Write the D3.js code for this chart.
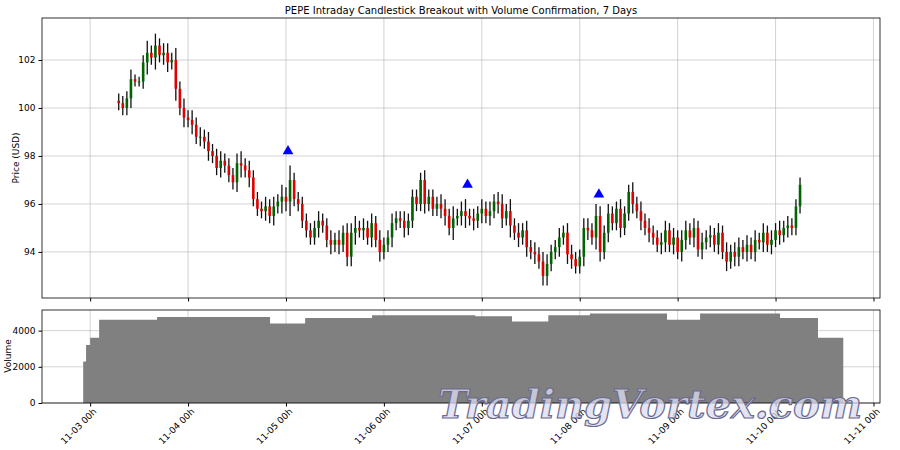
<!DOCTYPE html>
<html>
<head>
<meta charset="UTF-8">
<style>
  body { margin: 0; background: #fff; font-family: "DejaVu Sans", sans-serif; }
</style>
</head>
<body>
<svg id="chart" width="900" height="450"></svg>
<script src="https://cdn.jsdelivr.net/npm/d3@7/dist/d3.min.js"></script>
<script>
// Data: hourly candles from 11-03 07h onward (hour offsets from 11-03 00h)

const startHour = 7;
const firstOpen = 100.3;
const closes = [
  100.2, 100.0, 100.4, 101.2, 101.1, 101.1, 101.9, 102.3, 102.1, 102.6, 102.2, 102.3,
  101.9, 102.0, 100.8, 100.0, 99.6, 99.5, 99.3, 98.8, 98.8, 98.6, 98.2, 98.0,
  97.5, 97.8, 97.6, 97.2, 96.9, 97.7, 97.6, 97.4, 97.1, 96.2, 95.8, 95.7,
  95.9, 95.5, 95.9, 96.1, 96.3, 96.1, 97.0, 96.2, 96.0, 95.3, 94.9, 94.6,
  95.0, 95.3, 95.1, 94.5, 94.3, 94.5, 94.3, 94.8, 93.8, 94.8, 95.0, 94.9,
  95.0, 94.6, 95.2, 94.5, 94.0, 94.3, 94.6, 95.2, 95.4, 95.3, 95.0, 95.3,
  96.3, 96.0, 97.0, 96.0, 96.3, 95.8, 96.0, 95.8, 95.5, 95.0, 95.4, 95.5,
  95.7, 95.5, 95.4, 95.3, 95.6, 95.8, 95.5, 95.7, 96.1, 96.0, 95.4, 95.7,
  95.1, 94.8, 94.6, 94.9, 94.2, 94.0, 93.9, 93.6, 93.0, 93.5, 94.0, 94.2,
  94.6, 94.8, 93.9, 93.7, 93.4, 93.8, 95.0, 94.9, 94.6, 95.5, 94.0, 94.8,
  95.6, 95.2, 95.8, 95.0, 95.6, 96.5, 96.0, 95.7, 95.3, 95.0, 94.8, 94.6,
  94.3, 94.4, 94.9, 94.3, 94.6, 94.0, 94.5, 94.9, 94.6, 95.0, 94.1, 94.4,
  94.6, 94.7, 94.3, 94.8, 94.0, 93.6, 94.0, 93.8, 94.2, 94.0, 94.3, 94.0,
  94.5, 94.4, 94.8, 94.3, 94.5, 94.9, 94.7, 95.0, 95.1, 95.0, 95.9, 96.8
];
const wicks = [
  0.3, 0.3, 0.3, 0.4, 0.2, 0.2, 0.3, 0.5, 0.3, 0.5, 0.3, 0.4,
  0.4, 0.3, 0.5, 0.3, 0.4, 0.3, 0.4, 0.3, 0.4, 0.3, 0.4, 0.3,
  0.3, 0.4, 0.3, 0.3, 0.3, 0.4, 0.5, 0.3, 0.4, 0.3, 0.3, 0.3,
  0.4, 0.3, 0.4, 0.3, 0.5, 0.4, 0.6, 0.3, 0.3, 0.3, 0.3, 0.3,
  0.3, 0.4, 0.3, 0.3, 0.4, 0.3, 0.4, 0.3, 0.4, 0.4, 0.5, 0.3,
  0.4, 0.3, 0.4, 0.3, 0.4, 0.3, 0.3, 0.4, 0.3, 0.3, 0.4, 0.3,
  0.3, 0.3, 0.3, 0.4, 0.3, 0.3, 0.3, 0.4, 0.4, 0.3, 0.5, 0.3,
  0.4, 0.5, 0.3, 0.4, 0.3, 0.4, 0.3, 0.4, 0.3, 0.4, 0.4, 0.3,
  0.5, 0.3, 0.4, 0.3, 0.4, 0.3, 0.4, 0.3, 0.4, 0.4, 0.3, 0.3,
  0.4, 0.3, 0.4, 0.4, 0.3, 0.3, 0.4, 0.4, 0.3, 0.5, 0.4, 0.3,
  0.4, 0.3, 0.3, 0.4, 0.3, 0.3, 0.4, 0.3, 0.4, 0.3, 0.4, 0.3,
  0.3, 0.4, 0.4, 0.3, 0.4, 0.3, 0.4, 0.4, 0.3, 0.4, 0.3, 0.4,
  0.3, 0.4, 0.3, 0.4, 0.3, 0.4, 0.3, 0.4, 0.4, 0.3, 0.4, 0.3,
  0.4, 0.3, 0.4, 0.3, 0.4, 0.3, 0.4, 0.3, 0.4, 0.3, 0.3, 0.3
];

// Breakout markers
const breakoutHours = [48.5, 92.5, 124.7];
const breakoutPrices = [98.2, 96.8, 96.4];

// Volume steps (start hour, value)
const volumeHours = [-1.7, -1.0, 0, 2.2, 16.4, 44.1, 52.7, 69.1, 94.4, 103.4, 112.3, 122.5, 141.4, 149.5, 169.1, 178.4];
const volumeValues = [2300, 3200, 3600, 4600, 4750, 4400, 4700, 4850, 4800, 4500, 4850, 4950, 4600, 4950, 4700, 3600];
const volumeEnd = 184.6;

const dayTicks = ["11-03 00h", "11-04 00h", "11-05 00h", "11-06 00h", "11-07 00h", "11-08 00h", "11-09 00h", "11-10 00h", "11-11 00h"];

// Candles

let prev = firstOpen;
const candles = closes.map((c, i) => {
  const o = prev; prev = c;
  return { h: startHour + i, open: o, close: c, high: Math.max(o, c) + wicks[i], low: Math.min(o, c) - wicks[i] };
});

// Layout

const svg = d3.select("#chart");
const L = 42, R = 880;
const x = d3.scaleLinear().domain([-11.8, 193.6]).range([L, R]);
const y = d3.scaleLinear().domain([92.08, 103.75]).range([298, 18]);
const yv = d3.scaleLinear().domain([0, 5140]).range([403, 310]);

svg.append("text").attr("x", 461).attr("y", 14).attr("text-anchor", "middle")
  .attr("font-size", 10).text("PEPE Intraday Candlestick Breakout with Volume Confirmation, 7 Days");

const tickVals = d3.range(0, 193, 24);

function grid(g, ys, y0, y1) {
  g.selectAll(".vg").data(tickVals).join("line").attr("class", "vg")
    .attr("x1", d => x(d)).attr("x2", d => x(d)).attr("y1", y0).attr("y2", y1)
    .attr("stroke", "#b0b0b0").attr("stroke-width", 0.8).attr("stroke-opacity", 0.7);
  g.selectAll(".hg").data(ys).join("line").attr("class", "hg")
    .attr("x1", L).attr("x2", R).attr("y1", d => d).attr("y2", d => d)
    .attr("stroke", "#b0b0b0").attr("stroke-width", 0.8).attr("stroke-opacity", 0.7);
}

// Price panel

const pricePanel = svg.append("g");
grid(pricePanel.append("g"), [94, 96, 98, 100, 102].map(y), 18, 298);

pricePanel.append("g").selectAll("line").data(candles).join("line")
  .attr("x1", d => x(d.h)).attr("x2", d => x(d.h))
  .attr("y1", d => y(d.high)).attr("y2", d => y(d.low))
  .attr("stroke", "#111").attr("stroke-width", 1.3);

pricePanel.append("g").selectAll("rect").data(candles).join("rect")
  .attr("x", d => x(d.h) - 1.3).attr("width", 2.6)
  .attr("y", d => y(Math.max(d.open, d.close)))
  .attr("height", d => Math.max(1, Math.abs(y(d.open) - y(d.close))))
  .attr("fill", d => d.close >= d.open ? "#006400" : "#e00000");

pricePanel.append("g").selectAll("path").data(breakoutHours).join("path")
  .attr("transform", (d, i) => `translate(${x(d)},${y(breakoutPrices[i])})`)
  .attr("d", d3.symbol(d3.symbolTriangle, 50))
  .attr("fill", "#0000ff");

pricePanel.append("rect").attr("x", L).attr("y", 18).attr("width", R - L).attr("height", 280)
  .attr("fill", "none").attr("stroke", "#000").attr("stroke-width", 0.8);
pricePanel.append("g").attr("transform", "translate(42,0)")
  .call(d3.axisLeft(y).tickValues([94, 96, 98, 100, 102]).tickSize(3.5).tickFormat(d3.format("d")))
  .call(g => g.select(".domain").remove())
  .call(g => g.selectAll("text").attr("font-size", 9).attr("font-family", "DejaVu Sans"));
pricePanel.append("g").attr("transform", "translate(0,298)")
  .call(d3.axisBottom(x).tickValues(tickVals).tickSize(3.5).tickFormat(""))
  .call(g => g.select(".domain").remove());
pricePanel.append("text").attr("transform", "translate(19,158) rotate(-90)").attr("text-anchor", "middle")
  .attr("font-size", 9).text("Price (USD)");

// Volume panel

const volPanel = svg.append("g");
grid(volPanel.append("g"), [0, 2000, 4000].map(yv), 310, 403);

const steps = volumeHours.map((h, i) => ({ h, v: volumeValues[i] }));
steps.push({ h: volumeEnd, v: volumeValues[volumeValues.length - 1] });
volPanel.append("path").datum(steps)
  .attr("d", d3.area().curve(d3.curveStepAfter).x(d => x(d.h)).y0(yv(0)).y1(d => yv(d.v)))
  .attr("fill", "#808080");

volPanel.append("rect").attr("x", L).attr("y", 310).attr("width", R - L).attr("height", 93)
  .attr("fill", "none").attr("stroke", "#000").attr("stroke-width", 0.8);
volPanel.append("g").attr("transform", "translate(42,0)")
  .call(d3.axisLeft(yv).tickValues([0, 2000, 4000]).tickSize(3.5).tickFormat(d3.format("d")))
  .call(g => g.select(".domain").remove())
  .call(g => g.selectAll("text").attr("font-size", 9).attr("font-family", "DejaVu Sans"));
volPanel.append("g").attr("transform", "translate(0,403)")
  .call(d3.axisBottom(x).tickValues(tickVals).tickSize(3.5).tickFormat((d, i) => dayTicks[i]))
  .call(g => g.select(".domain").remove())
  .call(g => g.selectAll("text").attr("font-size", 9).attr("font-family", "DejaVu Sans")
    .attr("text-anchor", "end").attr("dx", "-0.2em").attr("dy", "0.5em").attr("transform", "rotate(-45)"));
volPanel.append("text").attr("transform", "translate(11,356) rotate(-90)").attr("text-anchor", "middle")
  .attr("font-size", 9).text("Volume");

// Watermark

svg.append("text").attr("x", 650).attr("y", 418).attr("text-anchor", "middle")
  .attr("font-family", "DejaVu Serif").attr("font-size", 40).attr("font-weight", "bold").attr("font-style", "italic")
  .attr("fill", "#dcdcf0").attr("fill-opacity", 0.75).attr("stroke", "#6a6a90").attr("stroke-width", 1.2)
  .text("TradingVortex.com");
</script>
</body>
</html>
